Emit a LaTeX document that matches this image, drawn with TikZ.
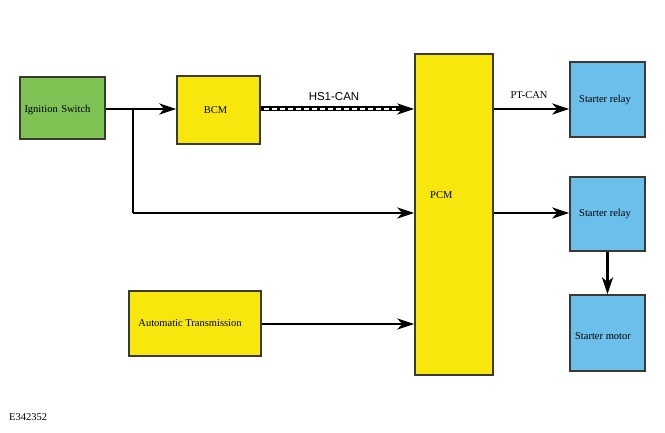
\documentclass[tikz,border=0pt]{standalone}
\usepackage{fontspec}
\setmainfont{Liberation Serif}
\newfontfamily\arialfont{Liberation Sans}
\usetikzlibrary{arrows.meta}
\definecolor{boxgreen}{HTML}{7DC252}
\definecolor{boxyellow}{HTML}{F7E70C}
\definecolor{boxblue}{HTML}{6BBFEA}
\definecolor{boxedge}{HTML}{3A3A30}
\tikzset{
  blk/.style={draw=boxedge, line width=1.4pt, rectangle, inner sep=0pt, font=\fontsize{10.5}{12}\selectfont, text=black},
  conn/.style={line width=2.8pt, -{Stealth[length=17pt,width=11pt,inset=5pt]}},
  lbl/.style={font=\fontsize{10.5}{12}\selectfont, inner sep=0pt}
}
\begin{document}
\begin{tikzpicture}[x=1pt,y=-1pt]
\useasboundingbox (0,0) rectangle (665,433);
\node[blk, fill=boxgreen, minimum width=85pt, minimum height=62pt, text width=80pt, align=left, text height=10pt, text depth=0pt] (ign) at (62.5,108) {\hspace{2pt}Ignition Switch};
\node[blk, fill=boxyellow, minimum width=83pt, minimum height=68pt] (bcm) at (218.5,110) {\hspace{-6pt}BCM};
\node[blk, fill=boxyellow, minimum width=78pt, minimum height=321pt] (pcm) at (454,214.5) {};
\node[lbl, anchor=west] (pcmt) at (430,195) {PCM};
\node[blk, fill=boxblue, minimum width=75pt, minimum height=75pt] (r1) at (607.5,99.5) {\hspace{-5pt}Starter relay};
\node[blk, fill=boxblue, minimum width=75pt, minimum height=74pt] (r2) at (607.5,214) {\hspace{-5pt}Starter relay};
\node[blk, fill=boxblue, minimum width=75pt, minimum height=76pt, text height=13pt, text depth=0pt] (mot) at (607.5,333) {\hspace{-9pt}Starter motor};
\node[blk, fill=boxyellow, minimum width=132pt, minimum height=65pt] (at) at (195,323.5) {\hspace{-10pt}Automatic Transmission};
\node[lbl, anchor=west] (code) at (9,417) {E342352};

\coordinate (br) at (133,109);
\coordinate (low) at (133,213);
\draw[conn] (ign.east |- br) -- (bcm.west |- br);
\draw[line width=2.8pt] (br) -- (low);
\draw[conn] (low) -- (pcm.west |- low);
% HS1-CAN
\draw[line width=5pt, -{Stealth[length=17pt,width=11pt,inset=5pt]}] (bcm.east |- br) -- (pcm.west |- br);
\draw[white, line width=2pt, dash pattern=on 5pt off 3pt] ([xshift=3pt]bcm.east |- br) -- ([xshift=-18pt]pcm.west |- br);
\node[lbl, font=\arialfont\fontsize{11.5}{13}\selectfont] (hs) at (334,97) {HS1-CAN};
% PCM outputs
\draw[conn] (pcm.east |- br) -- (r1.west |- br);
\node[lbl] (pt) at (529,95) {PT-CAN};
\draw[conn] (pcm.east |- low) -- (r2.west |- low);
\draw[conn] (r2.south) -- (mot.north);
\draw[conn] (at.east |- 0,324) -- (pcm.west |- 0,324);
\end{tikzpicture}
\end{document}
